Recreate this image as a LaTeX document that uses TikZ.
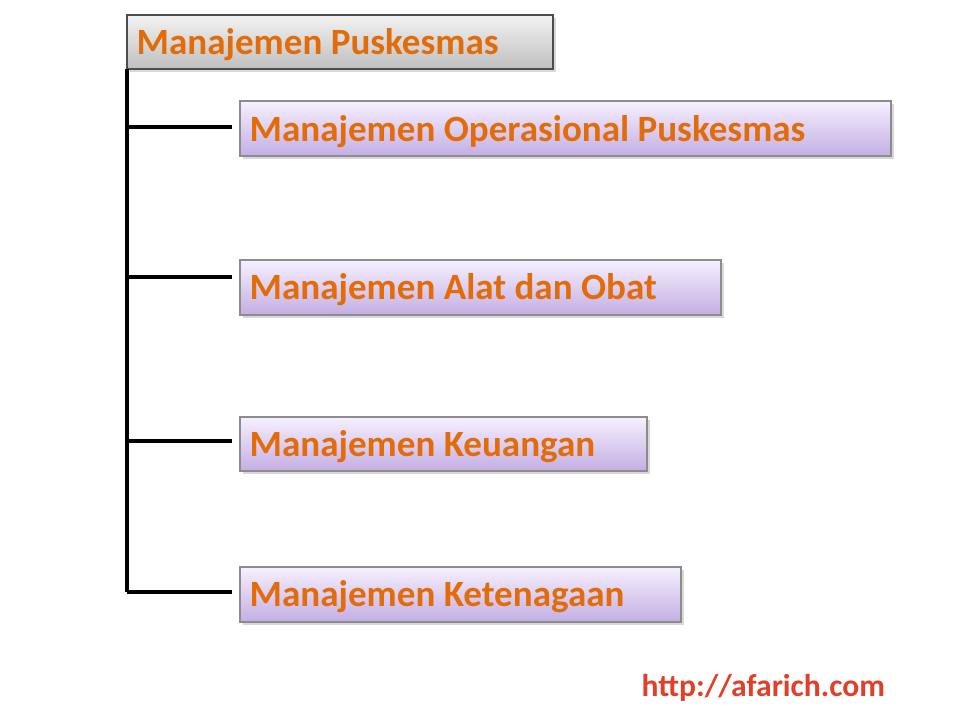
\documentclass[tikz,border=0pt]{standalone}
\usepackage{fontspec}
\setmainfont{Carlito}
\usetikzlibrary{shadows}
\definecolor{txt}{HTML}{E36C0A}
\definecolor{lavtop}{HTML}{F6F0FF}
\definecolor{lavbot}{HTML}{C3AEE3}
\definecolor{url}{HTML}{E0402A}
\begin{document}
\begin{tikzpicture}[x=0.75pt,y=-0.75pt,
  topbox/.style={draw=black!70,line width=1pt,top color=white!95!black,bottom color=black!25,drop shadow={shadow xshift=2pt,shadow yshift=-2pt,opacity=0.3}},
  subbox/.style={draw=black!45,line width=0.8pt,top color=lavtop,bottom color=lavbot,drop shadow={shadow xshift=2pt,shadow yshift=-2pt,opacity=0.3}},
  lbl/.style={anchor=west,text=txt,font=\bfseries\fontsize{27.8}{32}\selectfont},
  conn/.style={line width=3pt}]
\useasboundingbox (0,0) rectangle (960,720);
\fill[white] (0,0) rectangle (960,720);
\path[topbox] (127,15) rectangle (553,69);
\path[subbox] (240,101) rectangle (891,156);
\path[subbox] (240,260) rectangle (721,315);
\path[subbox] (240,417) rectangle (647,471);
\path[subbox] (240,567) rectangle (681,622);
\node[lbl] (t) at (132,45) {Manajemen Puskesmas};
\node[lbl] (a) at (245,132) {Manajemen Operasional Puskesmas};
\node[lbl] (b) at (245,290) {Manajemen Alat dan Obat};
\node[lbl] (c) at (245,447) {Manajemen Keuangan};
\node[lbl] (d) at (245,597) {Manajemen Ketenagaan};
\coordinate (top) at (127,69);
\coordinate (ja) at (127,127); \coordinate (ea) at (232,127);
\coordinate (jb) at (127,277); \coordinate (eb) at (232,277);
\coordinate (jc) at (127,441); \coordinate (ec) at (232,441);
\coordinate (jd) at (127,592); \coordinate (ed) at (232,592);
\draw[conn] (top) -- (jd);
\draw[conn] (ja) -- (ea);
\draw[conn] (jb) -- (eb);
\draw[conn] (jc) -- (ec);
\draw[conn] (jd) -- (ed);
\node[anchor=west,text=url,font=\bfseries\fontsize{23.7}{28}\selectfont] (u) at (637,688) {http://afarich.com};
\end{tikzpicture}
\end{document}
